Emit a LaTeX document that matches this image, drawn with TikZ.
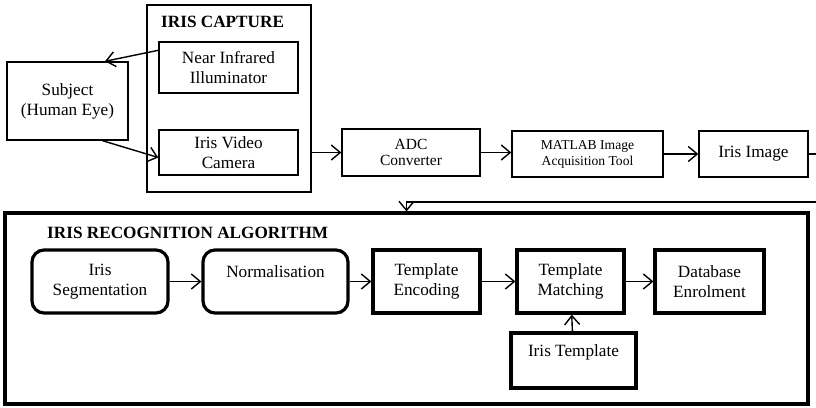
\documentclass[tikz,border=0pt]{standalone}
\usepackage{fontspec}
\setmainfont{Liberation Serif}
\usetikzlibrary{calc,arrows.meta,positioning}
\tikzset{
  ar/.style={-{Straight Barb[length=9pt,width=15pt,line width=1.4pt]},line width=1.4pt},
  box/.style={draw,line width=1.4pt,align=center,inner sep=0pt,font=\fontsize{17.2}{20}\selectfont},
  hbox/.style={box,line width=3.2pt},
  rbox/.style={hbox,rounded corners=12pt},
  ttl/.style={anchor=west,inner sep=0pt,font=\fontsize{17.2}{20}\selectfont\bfseries}
}
\begin{document}
\begin{tikzpicture}[x=1pt,y=-1pt]
\useasboundingbox (0,0) rectangle (816,407);
% capture stage
\node[box,minimum width=121,minimum height=78] (subj) at (67.5,101) {Subject\\(Human Eye)};
\node[box,minimum width=164,minimum height=187] (cap) at (229,98.5) {};
\node[ttl] (capt) at (161,22) {IRIS CAPTURE};
\node[box,minimum width=139,minimum height=51] (nir) at (228.5,67.5) {Near Infrared\\Illuminator};
\node[box,minimum width=139,minimum height=45] (cam) at (228.5,152.5) {Iris Video\\Camera};
\node[box,minimum width=138,minimum height=47,font=\fontsize{15.5}{16.5}\selectfont] (adc) at (411,152.5) {ADC\\Converter};
\node[box,minimum width=151,minimum height=46,font=\fontsize{13.6}{16}\selectfont] (mat) at (587.5,154) {MATLAB Image\\Acquisition Tool};
\node[box,minimum width=109,minimum height=46] (img) at (753.5,154) {Iris Image};
\draw[ar] ($(nir.north west)+(0,9)$) -- ($(subj.north)+(37.5,0)$);
\draw[ar] ($(subj.south)+(35,0)$) -- ($(cam.west)+(0,5)$);
\draw[ar] (cam.east -| cap.east) -- (adc.west);
\draw[ar] (adc.east) -- (mat.west |- adc.east);
\draw[ar] (mat.east) -- (img.west);
% recognition stage
\node[hbox,minimum width=803,minimum height=191] (alg) at (406.5,308.5) {};
\coordinate (turn) at (830,202);
\draw[ar] (img.east) -- (img.east -| turn) -- (turn) -- (turn -| alg.north) -- (alg.north);
\node[ttl] (algt) at (47,233) {IRIS RECOGNITION ALGORITHM};
\node[rbox,minimum width=136,minimum height=63] (seg) at (100,281.5) {Iris\\Segmentation};
\node[rbox,minimum width=145,minimum height=63] (nrm) at (275.5,281.5) {Normalisation\\~};
\node[hbox,minimum width=107,minimum height=63] (enc) at (426.5,281.5) {Template\\Encoding};
\node[hbox,minimum width=107,minimum height=63] (mtc) at (570.5,281.5) {Template\\Matching};
\node[hbox,minimum width=109,minimum height=63] (dbe) at (709.5,281.5) {Database\\Enrolment};
\node[hbox,minimum width=125,minimum height=55] (itp) at (573.5,360.5) {Iris Template\\~};
\draw[ar] (seg) -- (nrm);
\draw[ar] (nrm) -- (enc);
\draw[ar] (enc) -- (mtc);
\draw[ar] (mtc) -- (dbe);
\draw[ar] (itp) -- (mtc);
\end{tikzpicture}
\end{document}
